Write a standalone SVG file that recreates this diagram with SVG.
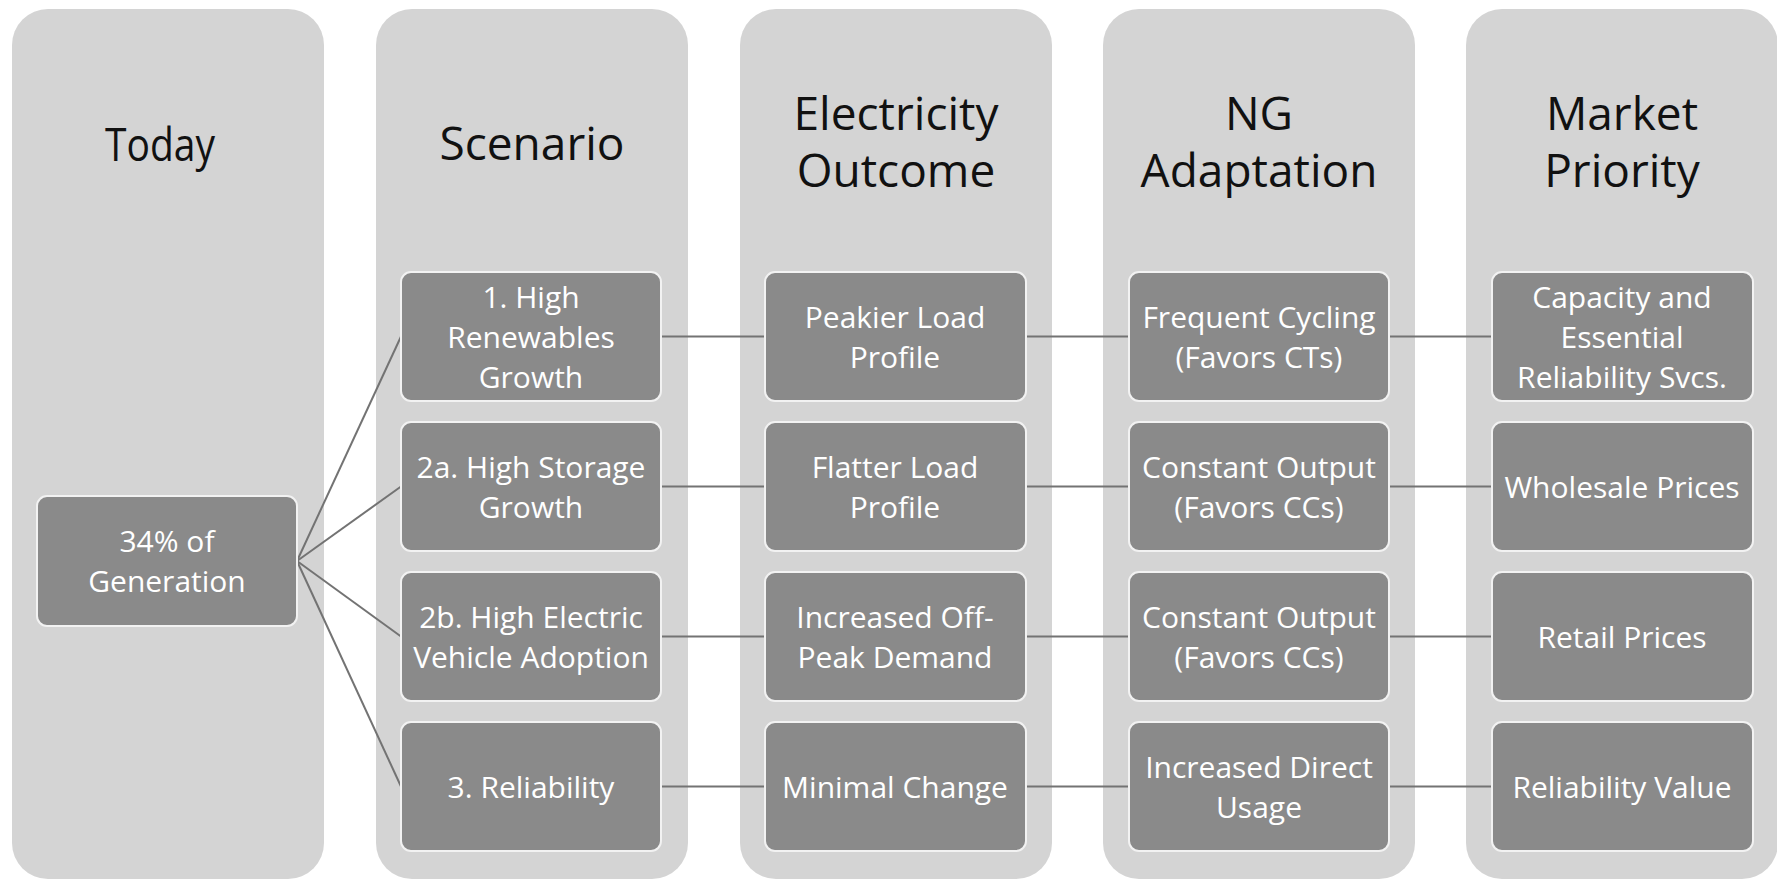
<svg xmlns="http://www.w3.org/2000/svg" width="1777" height="882" viewBox="0 0 1777 882">
<style>
.col{fill:#d4d4d4;}
.node{fill:#8a8a8a;stroke:#f2f2f2;stroke-width:2;}
.head{font-family:"Open Sans","Noto Sans",sans-serif;font-size:46px;fill:#111;text-anchor:middle;}
.lbl{font-family:"Open Sans","Noto Sans",sans-serif;font-size:30px;fill:#fff;text-anchor:middle;}
.conn line{stroke:#737373;stroke-width:2;}
</style>
<rect width="1777" height="882" fill="#fff"/>
<g id="columns">
<rect class="col" x="12" y="9" width="312" height="870" rx="36"/>
<rect class="col" x="376" y="9" width="312" height="870" rx="36"/>
<rect class="col" x="740" y="9" width="312" height="870" rx="36"/>
<rect class="col" x="1103" y="9" width="312" height="870" rx="36"/>
<rect class="col" x="1466" y="9" width="312" height="870" rx="36"/>
</g>
<g id="headings">
<text class="head" x="160" y="161" font-size="48" textLength="110" lengthAdjust="spacingAndGlyphs">Today</text>
<text class="head" x="532" y="160">Scenario</text>
<text class="head" x="896" y="130">Electricity</text>
<text class="head" x="896" y="187">Outcome</text>
<text class="head" x="1259" y="130">NG</text>
<text class="head" x="1259" y="187">Adaptation</text>
<text class="head" x="1622" y="130">Market</text>
<text class="head" x="1622" y="187">Priority</text>
</g>
<g class="conn" id="connectors">
<line x1="297" y1="561" x2="401" y2="336.5"/>
<line x1="297" y1="561" x2="401" y2="486.5"/>
<line x1="297" y1="561" x2="401" y2="636.5"/>
<line x1="297" y1="561" x2="401" y2="786.5"/>
<line x1="661" y1="336.5" x2="765" y2="336.5"/>
<line x1="661" y1="486.5" x2="765" y2="486.5"/>
<line x1="661" y1="636.5" x2="765" y2="636.5"/>
<line x1="661" y1="786.5" x2="765" y2="786.5"/>
<line x1="1026" y1="336.5" x2="1129" y2="336.5"/>
<line x1="1026" y1="486.5" x2="1129" y2="486.5"/>
<line x1="1026" y1="636.5" x2="1129" y2="636.5"/>
<line x1="1026" y1="786.5" x2="1129" y2="786.5"/>
<line x1="1389" y1="336.5" x2="1492" y2="336.5"/>
<line x1="1389" y1="486.5" x2="1492" y2="486.5"/>
<line x1="1389" y1="636.5" x2="1492" y2="636.5"/>
<line x1="1389" y1="786.5" x2="1492" y2="786.5"/>
</g>
<g id="today">
<rect class="node" x="37" y="496" width="260" height="130" rx="10"/>
<text class="lbl" x="167" y="552">34% of</text>
<text class="lbl" x="167" y="592">Generation</text>
</g>
<g id="s1">
<rect class="node" x="401" y="272" width="260" height="129" rx="10"/>
<text class="lbl" x="531" y="308">1. High</text>
<text class="lbl" x="531" y="348">Renewables</text>
<text class="lbl" x="531" y="388">Growth</text>
</g>
<g id="s2a">
<rect class="node" x="401" y="422" width="260" height="129" rx="10"/>
<text class="lbl" x="531" y="478">2a. High Storage</text>
<text class="lbl" x="531" y="518">Growth</text>
</g>
<g id="s2b">
<rect class="node" x="401" y="572" width="260" height="129" rx="10"/>
<text class="lbl" x="531" y="628">2b. High Electric</text>
<text class="lbl" x="531" y="668">Vehicle Adoption</text>
</g>
<g id="s3">
<rect class="node" x="401" y="722" width="260" height="129" rx="10"/>
<text class="lbl" x="531" y="798">3. Reliability</text>
</g>
<g id="e1">
<rect class="node" x="765" y="272" width="261" height="129" rx="10"/>
<text class="lbl" x="895" y="328">Peakier Load</text>
<text class="lbl" x="895" y="368">Profile</text>
</g>
<g id="e2">
<rect class="node" x="765" y="422" width="261" height="129" rx="10"/>
<text class="lbl" x="895" y="478">Flatter Load</text>
<text class="lbl" x="895" y="518">Profile</text>
</g>
<g id="e3">
<rect class="node" x="765" y="572" width="261" height="129" rx="10"/>
<text class="lbl" x="895" y="628">Increased Off-</text>
<text class="lbl" x="895" y="668">Peak Demand</text>
</g>
<g id="e4">
<rect class="node" x="765" y="722" width="261" height="129" rx="10"/>
<text class="lbl" x="895" y="798">Minimal Change</text>
</g>
<g id="n1">
<rect class="node" x="1129" y="272" width="260" height="129" rx="10"/>
<text class="lbl" x="1259" y="328">Frequent Cycling</text>
<text class="lbl" x="1259" y="368">(Favors CTs)</text>
</g>
<g id="n2">
<rect class="node" x="1129" y="422" width="260" height="129" rx="10"/>
<text class="lbl" x="1259" y="478">Constant Output</text>
<text class="lbl" x="1259" y="518">(Favors CCs)</text>
</g>
<g id="n3">
<rect class="node" x="1129" y="572" width="260" height="129" rx="10"/>
<text class="lbl" x="1259" y="628">Constant Output</text>
<text class="lbl" x="1259" y="668">(Favors CCs)</text>
</g>
<g id="n4">
<rect class="node" x="1129" y="722" width="260" height="129" rx="10"/>
<text class="lbl" x="1259" y="778">Increased Direct</text>
<text class="lbl" x="1259" y="818">Usage</text>
</g>
<g id="m1">
<rect class="node" x="1492" y="272" width="261" height="129" rx="10"/>
<text class="lbl" x="1622" y="308">Capacity and</text>
<text class="lbl" x="1622" y="348">Essential</text>
<text class="lbl" x="1622" y="388">Reliability Svcs.</text>
</g>
<g id="m2">
<rect class="node" x="1492" y="422" width="261" height="129" rx="10"/>
<text class="lbl" x="1622" y="498">Wholesale Prices</text>
</g>
<g id="m3">
<rect class="node" x="1492" y="572" width="261" height="129" rx="10"/>
<text class="lbl" x="1622" y="648">Retail Prices</text>
</g>
<g id="m4">
<rect class="node" x="1492" y="722" width="261" height="129" rx="10"/>
<text class="lbl" x="1622" y="798">Reliability Value</text>
</g>
</svg>
